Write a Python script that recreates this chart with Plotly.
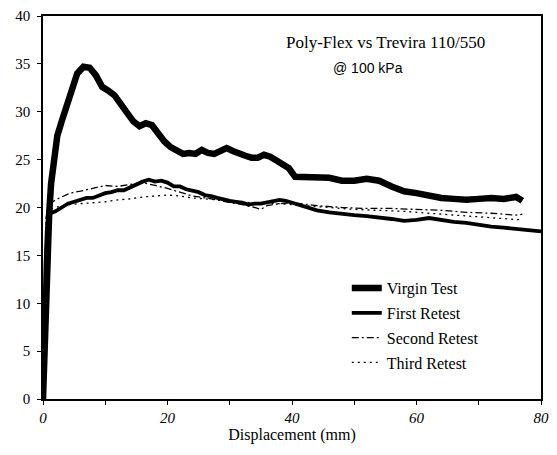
import plotly.graph_objects as go

# ---------------- data ----------------
virgin_x = [0, 0.2, 0.4, 0.7, 1.0, 1.3, 1.7, 2.3, 3.0, 3.5, 4.5, 5.5, 6.5, 7.5, 8.5, 9.5,
            10.5, 11.5, 12.5, 13.5, 14.5, 15.5, 16.5, 17.5, 18.5, 19.5, 20.5, 21.5, 22.5,
            23.5, 24.5, 25.5, 26.5, 27.5, 28.5, 29.5, 30.5, 31.5, 32.5, 33.5, 34.5, 35.5,
            36.5, 37.5, 38.5, 39.5, 40.5, 42, 44, 46, 48, 50, 52, 54, 56, 58, 60, 62, 64,
            66, 68, 70, 72, 74, 76, 77]
virgin_y = [0, 5, 11, 16, 19.5, 22.5, 25, 27.5, 29, 30, 32.5, 34, 34.7, 34.6, 33.8, 32.6,
            32.2, 31.7, 30.8, 30.0, 29.0, 28.5, 28.8, 28.6, 27.6, 26.9, 26.3, 25.9, 25.6,
            25.7, 25.6, 26.0, 25.7, 25.6, 25.9, 26.2, 25.9, 25.6, 25.4, 25.2, 25.2, 25.5,
            25.3, 24.9, 24.5, 24.1, 23.2, 23.2, 23.1, 23.1, 22.8, 22.8, 23.0, 22.8, 22.2,
            21.7, 21.5, 21.2, 21.0, 20.9, 20.8, 20.9, 21.0, 20.9, 21.1, 20.7]

first_x = [0, 0.2, 0.4, 0.6, 0.8, 1.2, 2, 3, 4, 5, 6, 7, 8, 9, 10, 11, 12, 13, 14, 15, 16,
           17, 18, 19, 20, 21, 22, 23, 24, 25, 26, 27, 28, 29, 30, 31, 32, 33, 34, 35, 36,
           37, 38, 39, 40, 42, 44, 46, 48, 50, 52, 54, 56, 58, 60, 62, 64, 66, 68, 70, 72,
           74, 76, 78, 80]
first_y = [0, 8, 14, 17.5, 18.8, 19.4, 19.6, 20.0, 20.4, 20.6, 20.8, 21.0, 21.0, 21.3,
           21.5, 21.6, 21.8, 21.8, 22.1, 22.5, 22.7, 22.9, 22.7, 22.8, 22.6, 22.2, 22.2,
           21.9, 21.8, 21.6, 21.3, 21.2, 21.0, 20.8, 20.7, 20.6, 20.5, 20.3, 20.4, 20.4,
           20.5, 20.6, 20.8, 20.7, 20.5, 20.0, 19.7, 19.5, 19.3, 19.2, 19.1, 19.0, 18.8,
           18.6, 18.7, 18.9, 18.7, 18.5, 18.4, 18.2, 18.0, 17.9, 17.8, 17.6, 17.5]

second_x = [0, 0.5, 1, 2, 3, 4, 5, 6, 8, 10, 12, 14, 16, 18, 20, 22, 24, 26, 28, 30, 32,
            34, 35, 36, 38, 40, 44, 48, 52, 56, 60, 64, 68, 72, 76, 77]
second_y = [0, 19, 20.3, 20.8, 21.1, 21.4, 21.6, 21.7, 22.0, 22.3, 22.2, 22.4, 22.6,
            22.3, 22.0, 21.6, 21.2, 21.0, 20.8, 20.5, 20.3, 20.0, 19.8, 20.2, 20.4, 20.5,
            20.2, 20.0, 19.9, 19.9, 19.8, 19.7, 19.5, 19.4, 19.2, 19.3]

third_x = [0, 0.5, 1, 2, 4, 6, 8, 10, 12, 14, 16, 18, 20, 22, 24, 26, 28, 30, 34, 38, 42,
           46, 50, 54, 58, 62, 66, 70, 74, 77]
third_y = [0, 18.5, 19.8, 20.0, 20.3, 20.4, 20.5, 20.6, 20.8, 20.9, 21.1, 21.2, 21.3,
           21.2, 21.0, 20.9, 20.8, 20.6, 20.5, 20.4, 20.2, 20.0, 19.8, 19.7, 19.6, 19.4,
           19.2, 19.0, 18.8, 18.7]

x_tickvals = [0, 10, 20, 30, 40, 50, 60, 70, 80]
x_ticktext = ["0", "", "20", "", "40", "", "60", "", "80"]
y_tickvals = [0, 5, 10, 15, 20, 25, 30, 35, 40]

SERIF = "Liberation Serif"
SANS = "Liberation Sans"

fig = go.Figure()
series = [
    ("Virgin Test", virgin_x, virgin_y, 6.5, "solid"),
    ("First Retest", first_x, first_y, 3.8, "solid"),
    ("Second Retest", second_x, second_y, 1.3, "7px,3px,2px,3px"),
    ("Third Retest", third_x, third_y, 1.3, "2px,4px"),
]
for name, xs, ys, w, d in series:
    fig.add_trace(go.Scatter(x=xs, y=ys, mode="lines", name=name, legendgroup=name,
                             line=dict(color="black", width=w, dash=d)))

# page body has an 8px margin, so the figure is sized to fill the rest of the window
fig.update_layout(
    width=549, height=447,
    margin=dict(l=35, r=16, t=8, b=56, autoexpand=False),
    paper_bgcolor="white", plot_bgcolor="white",
    showlegend=True,
    legend=dict(x=0.61, y=0.334, xanchor="left", yanchor="top",
                font=dict(family=SERIF, size=16, color="black"),
                tracegroupgap=1, bgcolor="rgba(0,0,0,0)"),
    font=dict(family=SERIF, color="black"),
)
fig.update_xaxes(range=[0, 80], tickvals=x_tickvals, ticktext=x_ticktext,
                 automargin=True,
                 ticks="outside", ticklen=4, tickcolor="black", tickwidth=1.2,
                 showline=True, linecolor="black", linewidth=1.5, mirror=True,
                 showgrid=False, zeroline=False,
                 tickfont=dict(family=SERIF, size=15, style="italic", color="black"),
                 title=dict(text="Displacement (mm)", standoff=3,
                            font=dict(family=SERIF, size=16, color="black")))
fig.update_yaxes(range=[0, 40], tickvals=y_tickvals, automargin=False,
                 ticks="outside", ticklen=4, tickcolor="black", tickwidth=1.2,
                 ticklabelstandoff=4,
                 showline=True, linecolor="black", linewidth=1.5, mirror=True,
                 showgrid=False, zeroline=False,
                 tickfont=dict(family=SERIF, size=15, color="black"))

fig.add_annotation(x=0.687, y=0.932, xref="paper", yref="paper", showarrow=False,
                   xanchor="center", yanchor="middle",
                   text="Poly-Flex vs Trevira 110/550",
                   font=dict(family=SERIF, size=17, color="black"))
fig.add_annotation(x=0.652, y=0.864, xref="paper", yref="paper", showarrow=False,
                   xanchor="center", yanchor="middle",
                   text="@ 100 kPa", font=dict(family=SANS, size=14, color="black"))

fig.write_html("out.html")
